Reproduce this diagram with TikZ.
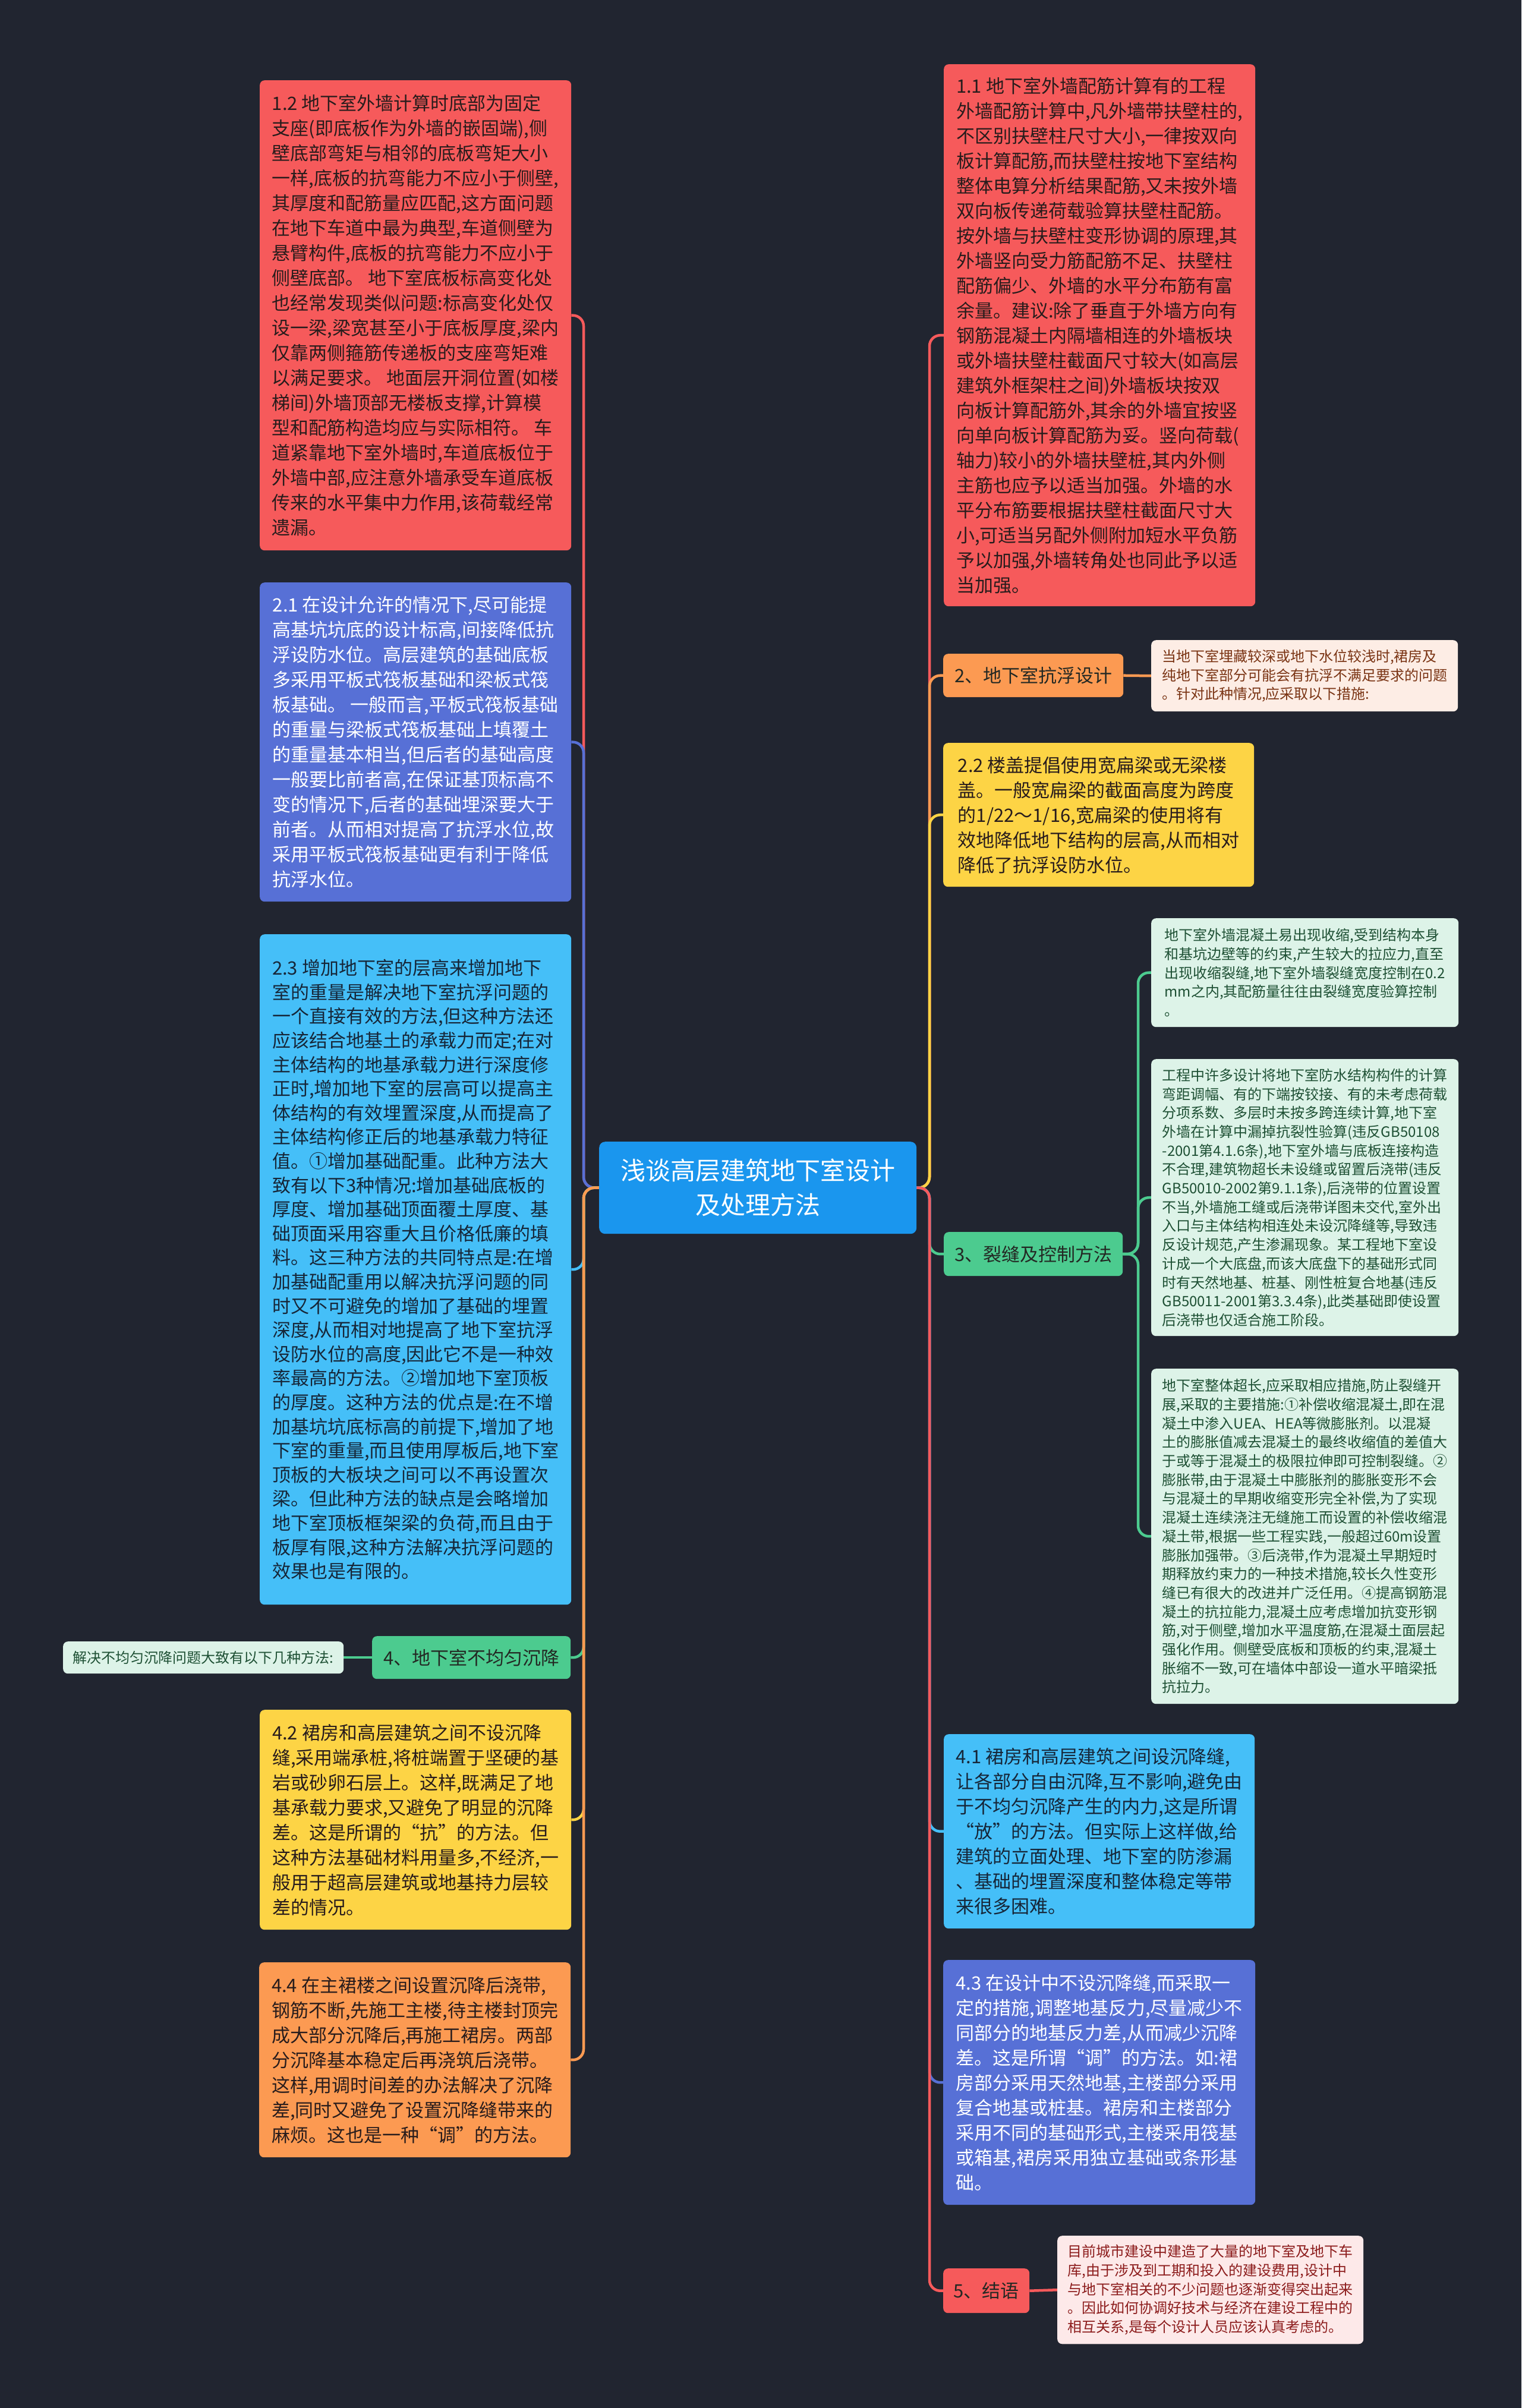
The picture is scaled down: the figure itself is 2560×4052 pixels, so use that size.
\documentclass[tikz,border=0pt]{standalone}
\usepackage{fontspec}
\setmainfont{Noto Sans CJK SC}
\definecolor{bgc}{RGB}{33,37,48}
\definecolor{cred}{RGB}{246,90,91}
\definecolor{cindigo}{RGB}{87,112,214}
\definecolor{ccyan}{RGB}{69,191,248}
\definecolor{cyellow}{RGB}{253,212,69}
\definecolor{corange}{RGB}{252,154,82}
\definecolor{cgreen}{RGB}{76,203,143}
\definecolor{ccenter}{RGB}{26,150,238}
\definecolor{cmint}{RGB}{221,243,232}
\definecolor{cpeach}{RGB}{253,237,229}
\definecolor{cpink}{RGB}{253,233,233}
\definecolor{tdark}{RGB}{40,28,28}
\definecolor{tdarkb}{RGB}{22,38,56}
\definecolor{tmint}{RGB}{30,80,52}
\definecolor{tpeach}{RGB}{122,52,20}
\definecolor{tpink}{RGB}{140,28,28}
\definecolor{tlabel}{RGB}{35,40,35}
\newcommand\myBody{\fontsize{31}{42}\selectfont}
\newcommand\myBodyB{\fontsize{31}{40.6}\selectfont}
\newcommand\myNote{\fontsize{24}{31.7}\selectfont}
\newcommand\myLabel{\fontsize{31}{40}\selectfont}
\newcommand\myTitle{\fontsize{42}{58}\selectfont}
\pgfdeclarelayer{back}
\pgfdeclarelayer{lines}
\pgfsetlayers{back,lines,main}
\tikzset{
  tb/.style={rounded corners=8pt, inner sep=0pt, align=left, anchor=north west, font=\myBody},
  nb/.style={rounded corners=8pt, inner sep=0pt, align=left, anchor=north west, font=\myNote},
  lb/.style={rounded corners=8pt, inner sep=0pt, align=center, anchor=north west, font=\myLabel, text=tlabel},
  conn/.style={line width=4.5pt, rounded corners=18pt},
}
\begin{document}
\begin{tikzpicture}[x=1pt,y=-1pt]
\begin{pgfonlayer}{back}
\fill[bgc] (0,0) rectangle (2560,4052);
\end{pgfonlayer}
\useasboundingbox (0,0) rectangle (2560,4052);

% center
\node[rounded corners=10pt, inner sep=0pt, align=center, anchor=north west, font=\myTitle, text=white, fill=ccenter, minimum width=534pt, minimum height=155pt] (c) at (1008,1921) {浅谈高层建筑地下室设计\\及处理方法};

% left column
\node[tb, fill=cred, text=tdark, minimum width=524pt, minimum height=791pt] (n12) at (437,135) {1.2 地下室外墙计算时底部为固定\\支座(即底板作为外墙的嵌固端),侧\\壁底部弯矩与相邻的底板弯矩大小\\一样,底板的抗弯能力不应小于侧壁,\\其厚度和配筋量应匹配,这方面问题\\在地下车道中最为典型,车道侧壁为\\悬臂构件,底板的抗弯能力不应小于\\侧壁底部。 地下室底板标高变化处\\也经常发现类似问题:标高变化处仅\\设一梁,梁宽甚至小于底板厚度,梁内\\仅靠两侧箍筋传递板的支座弯矩难\\以满足要求。 地面层开洞位置(如楼\\梯间)外墙顶部无楼板支撑,计算模\\型和配筋构造均应与实际相符。 车\\道紧靠地下室外墙时,车道底板位于\\外墙中部,应注意外墙承受车道底板\\传来的水平集中力作用,该荷载经常\\遗漏。};

\node[tb, fill=cindigo, text=white, minimum width=524pt, minimum height=537pt] (n21) at (437,980) {2.1 在设计允许的情况下,尽可能提\\高基坑坑底的设计标高,间接降低抗\\浮设防水位。高层建筑的基础底板\\多采用平板式筏板基础和梁板式筏\\板基础。 一般而言,平板式筏板基础\\的重量与梁板式筏板基础上填覆土\\的重量基本相当,但后者的基础高度\\一般要比前者高,在保证基顶标高不\\变的情况下,后者的基础埋深要大于\\前者。从而相对提高了抗浮水位,故\\采用平板式筏板基础更有利于降低\\抗浮水位。};

\node[tb, font=\myBodyB, fill=ccyan, text=tdarkb, minimum width=524pt, minimum height=1128pt] (n23) at (437,1572) {2.3 增加地下室的层高来增加地下\\室的重量是解决地下室抗浮问题的\\一个直接有效的方法,但这种方法还\\应该结合地基土的承载力而定;在对\\主体结构的地基承载力进行深度修\\正时,增加地下室的层高可以提高主\\体结构的有效埋置深度,从而提高了\\主体结构修正后的地基承载力特征\\值。①增加基础配重。此种方法大\\致有以下3种情况:增加基础底板的\\厚度、增加基础顶面覆土厚度、基\\础顶面采用容重大且价格低廉的填\\料。这三种方法的共同特点是:在增\\加基础配重用以解决抗浮问题的同\\时又不可避免的增加了基础的埋置\\深度,从而相对地提高了地下室抗浮\\设防水位的高度,因此它不是一种效\\率最高的方法。②增加地下室顶板\\的厚度。这种方法的优点是:在不增\\加基坑坑底标高的前提下,增加了地\\下室的重量,而且使用厚板后,地下室\\顶板的大板块之间可以不再设置次\\梁。但此种方法的缺点是会略增加\\地下室顶板框架梁的负荷,而且由于\\板厚有限,这种方法解决抗浮问题的\\效果也是有限的。};

\node[lb, fill=cgreen, minimum width=334pt, minimum height=72pt] (n4) at (626,2753) {4、地下室不均匀沉降};
\node[nb, align=center, fill=cmint, text=tmint, minimum width=472pt, minimum height=54pt] (n4note) at (106,2762) {解决不均匀沉降问题大致有以下几种方法:};

\node[tb, fill=cyellow, text=tdark, minimum width=524pt, minimum height=370pt] (n42) at (437,2877) {4.2 裙房和高层建筑之间不设沉降\\缝,采用端承桩,将桩端置于坚硬的基\\岩或砂卵石层上。这样,既满足了地\\基承载力要求,又避免了明显的沉降\\差。这是所谓的“抗”的方法。但\\这种方法基础材料用量多,不经济,一\\般用于超高层建筑或地基持力层较\\差的情况。};

\node[tb, fill=corange, text=tdark, minimum width=524pt, minimum height=328pt] (n44) at (436,3302) {4.4 在主裙楼之间设置沉降后浇带,\\钢筋不断,先施工主楼,待主楼封顶完\\成大部分沉降后,再施工裙房。两部\\分沉降基本稳定后再浇筑后浇带。\\这样,用调时间差的办法解决了沉降\\差,同时又避免了设置沉降缝带来的\\麻烦。这也是一种“调”的方法。};

% right column
\node[tb, fill=cred, text=tdark, minimum width=524pt, minimum height=912pt] (n11) at (1588,108) {1.1 地下室外墙配筋计算有的工程\\外墙配筋计算中,凡外墙带扶壁柱的,\\不区别扶壁柱尺寸大小,一律按双向\\板计算配筋,而扶壁柱按地下室结构\\整体电算分析结果配筋,又未按外墙\\双向板传递荷载验算扶壁柱配筋。\\按外墙与扶壁柱变形协调的原理,其\\外墙竖向受力筋配筋不足、扶壁柱\\配筋偏少、外墙的水平分布筋有富\\余量。建议:除了垂直于外墙方向有\\钢筋混凝土内隔墙相连的外墙板块\\或外墙扶壁柱截面尺寸较大(如高层\\建筑外框架柱之间)外墙板块按双\\向板计算配筋外,其余的外墙宜按竖\\向单向板计算配筋为妥。竖向荷载(\\轴力)较小的外墙扶壁桩,其内外侧\\主筋也应予以适当加强。外墙的水\\平分布筋要根据扶壁柱截面尺寸大\\小,可适当另配外侧附加短水平负筋\\予以加强,外墙转角处也同此予以适\\当加强。};

\node[lb, fill=corange, minimum width=303pt, minimum height=73pt] (n2) at (1587,1100) {2、地下室抗浮设计};
\node[nb, fill=cpeach, text=tpeach, minimum width=516pt, minimum height=120pt] (n2note) at (1937,1077) {当地下室埋藏较深或地下水位较浅时,裙房及\\纯地下室部分可能会有抗浮不满足要求的问题\\。针对此种情况,应采取以下措施:};

\node[tb, fill=cyellow, text=tdark, minimum width=523pt, minimum height=242pt] (n22) at (1587,1250) {2.2 楼盖提倡使用宽扁梁或无梁楼\\盖。一般宽扁梁的截面高度为跨度\\的1/22～1/16,宽扁梁的使用将有\\效地降低地下结构的层高,从而相对\\降低了抗浮设防水位。};

\node[lb, fill=cgreen, minimum width=301pt, minimum height=74pt] (n3) at (1588,2073) {3、裂缝及控制方法};

\node[nb, fill=cmint, text=tmint, minimum width=517pt, minimum height=183pt] (n31) at (1937,1545) {地下室外墙混凝土易出现收缩,受到结构本身\\和基坑边壁等的约束,产生较大的拉应力,直至\\出现收缩裂缝,地下室外墙裂缝宽度控制在0.2\\mm之内,其配筋量往往由裂缝宽度验算控制\\。};

\node[nb, fill=cmint, text=tmint, minimum width=517pt, minimum height=466pt] (n32) at (1937,1782) {工程中许多设计将地下室防水结构构件的计算\\弯距调幅、有的下端按铰接、有的未考虑荷载\\分项系数、多层时未按多跨连续计算,地下室\\外墙在计算中漏掉抗裂性验算(违反GB50108\\-2001第4.1.6条),地下室外墙与底板连接构造\\不合理,建筑物超长未设缝或留置后浇带(违反\\GB50010-2002第9.1.1条),后浇带的位置设置\\不当,外墙施工缝或后浇带详图未交代,室外出\\入口与主体结构相连处未设沉降缝等,导致违\\反设计规范,产生渗漏现象。某工程地下室设\\计成一个大底盘,而该大底盘下的基础形式同\\时有天然地基、桩基、刚性桩复合地基(违反\\GB50011-2001第3.3.4条),此类基础即使设置\\后浇带也仅适合施工阶段。};

\node[nb, fill=cmint, text=tmint, minimum width=517pt, minimum height=564pt] (n33) at (1937,2303) {地下室整体超长,应采取相应措施,防止裂缝开\\展,采取的主要措施:①补偿收缩混凝土,即在混\\凝土中渗入UEA、HEA等微膨胀剂。以混凝\\土的膨胀值减去混凝土的最终收缩值的差值大\\于或等于混凝土的极限拉伸即可控制裂缝。②\\膨胀带,由于混凝土中膨胀剂的膨胀变形不会\\与混凝土的早期收缩变形完全补偿,为了实现\\混凝土连续浇注无缝施工而设置的补偿收缩混\\凝土带,根据一些工程实践,一般超过60m设置\\膨胀加强带。③后浇带,作为混凝土早期短时\\期释放约束力的一种技术措施,较长久性变形\\缝已有很大的改进并广泛任用。④提高钢筋混\\凝土的抗拉能力,混凝土应考虑增加抗变形钢\\筋,对于侧壁,增加水平温度筋,在混凝土面层起\\强化作用。侧壁受底板和顶板的约束,混凝土\\胀缩不一致,可在墙体中部设一道水平暗梁抵\\抗拉力。};

\node[tb, fill=ccyan, text=tdarkb, minimum width=523pt, minimum height=327pt] (n41) at (1588,2918) {4.1 裙房和高层建筑之间设沉降缝,\\让各部分自由沉降,互不影响,避免由\\于不均匀沉降产生的内力,这是所谓\\“放”的方法。但实际上这样做,给\\建筑的立面处理、地下室的防渗漏\\、基础的埋置深度和整体稳定等带\\来很多困难。};

\node[tb, fill=cindigo, text=white, minimum width=525pt, minimum height=412pt] (n43) at (1587,3298) {4.3 在设计中不设沉降缝,而采取一\\定的措施,调整地基反力,尽量减少不\\同部分的地基反力差,从而减少沉降\\差。这是所谓“调”的方法。如:裙\\房部分采用天然地基,主楼部分采用\\复合地基或桩基。裙房和主楼部分\\采用不同的基础形式,主楼采用筏基\\或箱基,裙房采用独立基础或条形基\\础。};

\node[lb, fill=cred, minimum width=145pt, minimum height=75pt] (n5) at (1587,3817) {5、结语};
\node[nb, fill=cpink, text=tpink, minimum width=515pt, minimum height=182pt] (n5note) at (1779,3762) {目前城市建设中建造了大量的地下室及地下车\\库,由于涉及到工期和投入的建设费用,设计中\\与地下室相关的不少问题也逐渐变得突出起来\\。因此如何协调好技术与经济在建设工程中的\\相互关系,是每个设计人员应该认真考虑的。};

% connectors
\coordinate (lt) at (982,1998.5);
\coordinate (rt) at (1564,1998.5);
\coordinate (t3) at (1915,2110);
\begin{pgfonlayer}{lines}
\draw[conn, cred] (c.west) -- (lt) |- (n12.east);
\draw[conn, cindigo] (c.west) -- (lt) |- (n21.east);
\draw[conn, ccyan] (c.west) -- (lt) |- (n23.east);
\draw[conn, cgreen] (c.west) -- (lt) |- (n4.east);
\draw[conn, cyellow] (c.west) -- (lt) |- (n42.east);
\draw[conn, corange] (c.west) -- (lt) |- (n44.east);
\draw[conn, cred] (c.east) -- (rt) |- (n11.west);
\draw[conn, corange] (c.east) -- (rt) |- (n2.west);
\draw[conn, cyellow] (c.east) -- (rt) |- (n22.west);
\draw[conn, cgreen] (c.east) -- (rt) |- (n3.west);
\draw[conn, ccyan] (c.east) -- (rt) |- (n41.west);
\draw[conn, cindigo] (c.east) -- (rt) |- (n43.west);
\draw[conn, cred] (c.east) -- (rt) |- (n5.west);
\draw[conn, corange] (n2.east) -- (n2note.west);
\draw[conn, cgreen] (n3.east) -- (t3) |- (n31.west);
\draw[conn, cgreen] (n3.east) -- (t3) |- (n32.west);
\draw[conn, cgreen] (n3.east) -- (t3) |- (n33.west);
\draw[conn, cgreen] (n4.west) -- (n4note.east);
\draw[conn, cred] (n5.east) -- (n5note.west);
\end{pgfonlayer}
\end{tikzpicture}
\end{document}
